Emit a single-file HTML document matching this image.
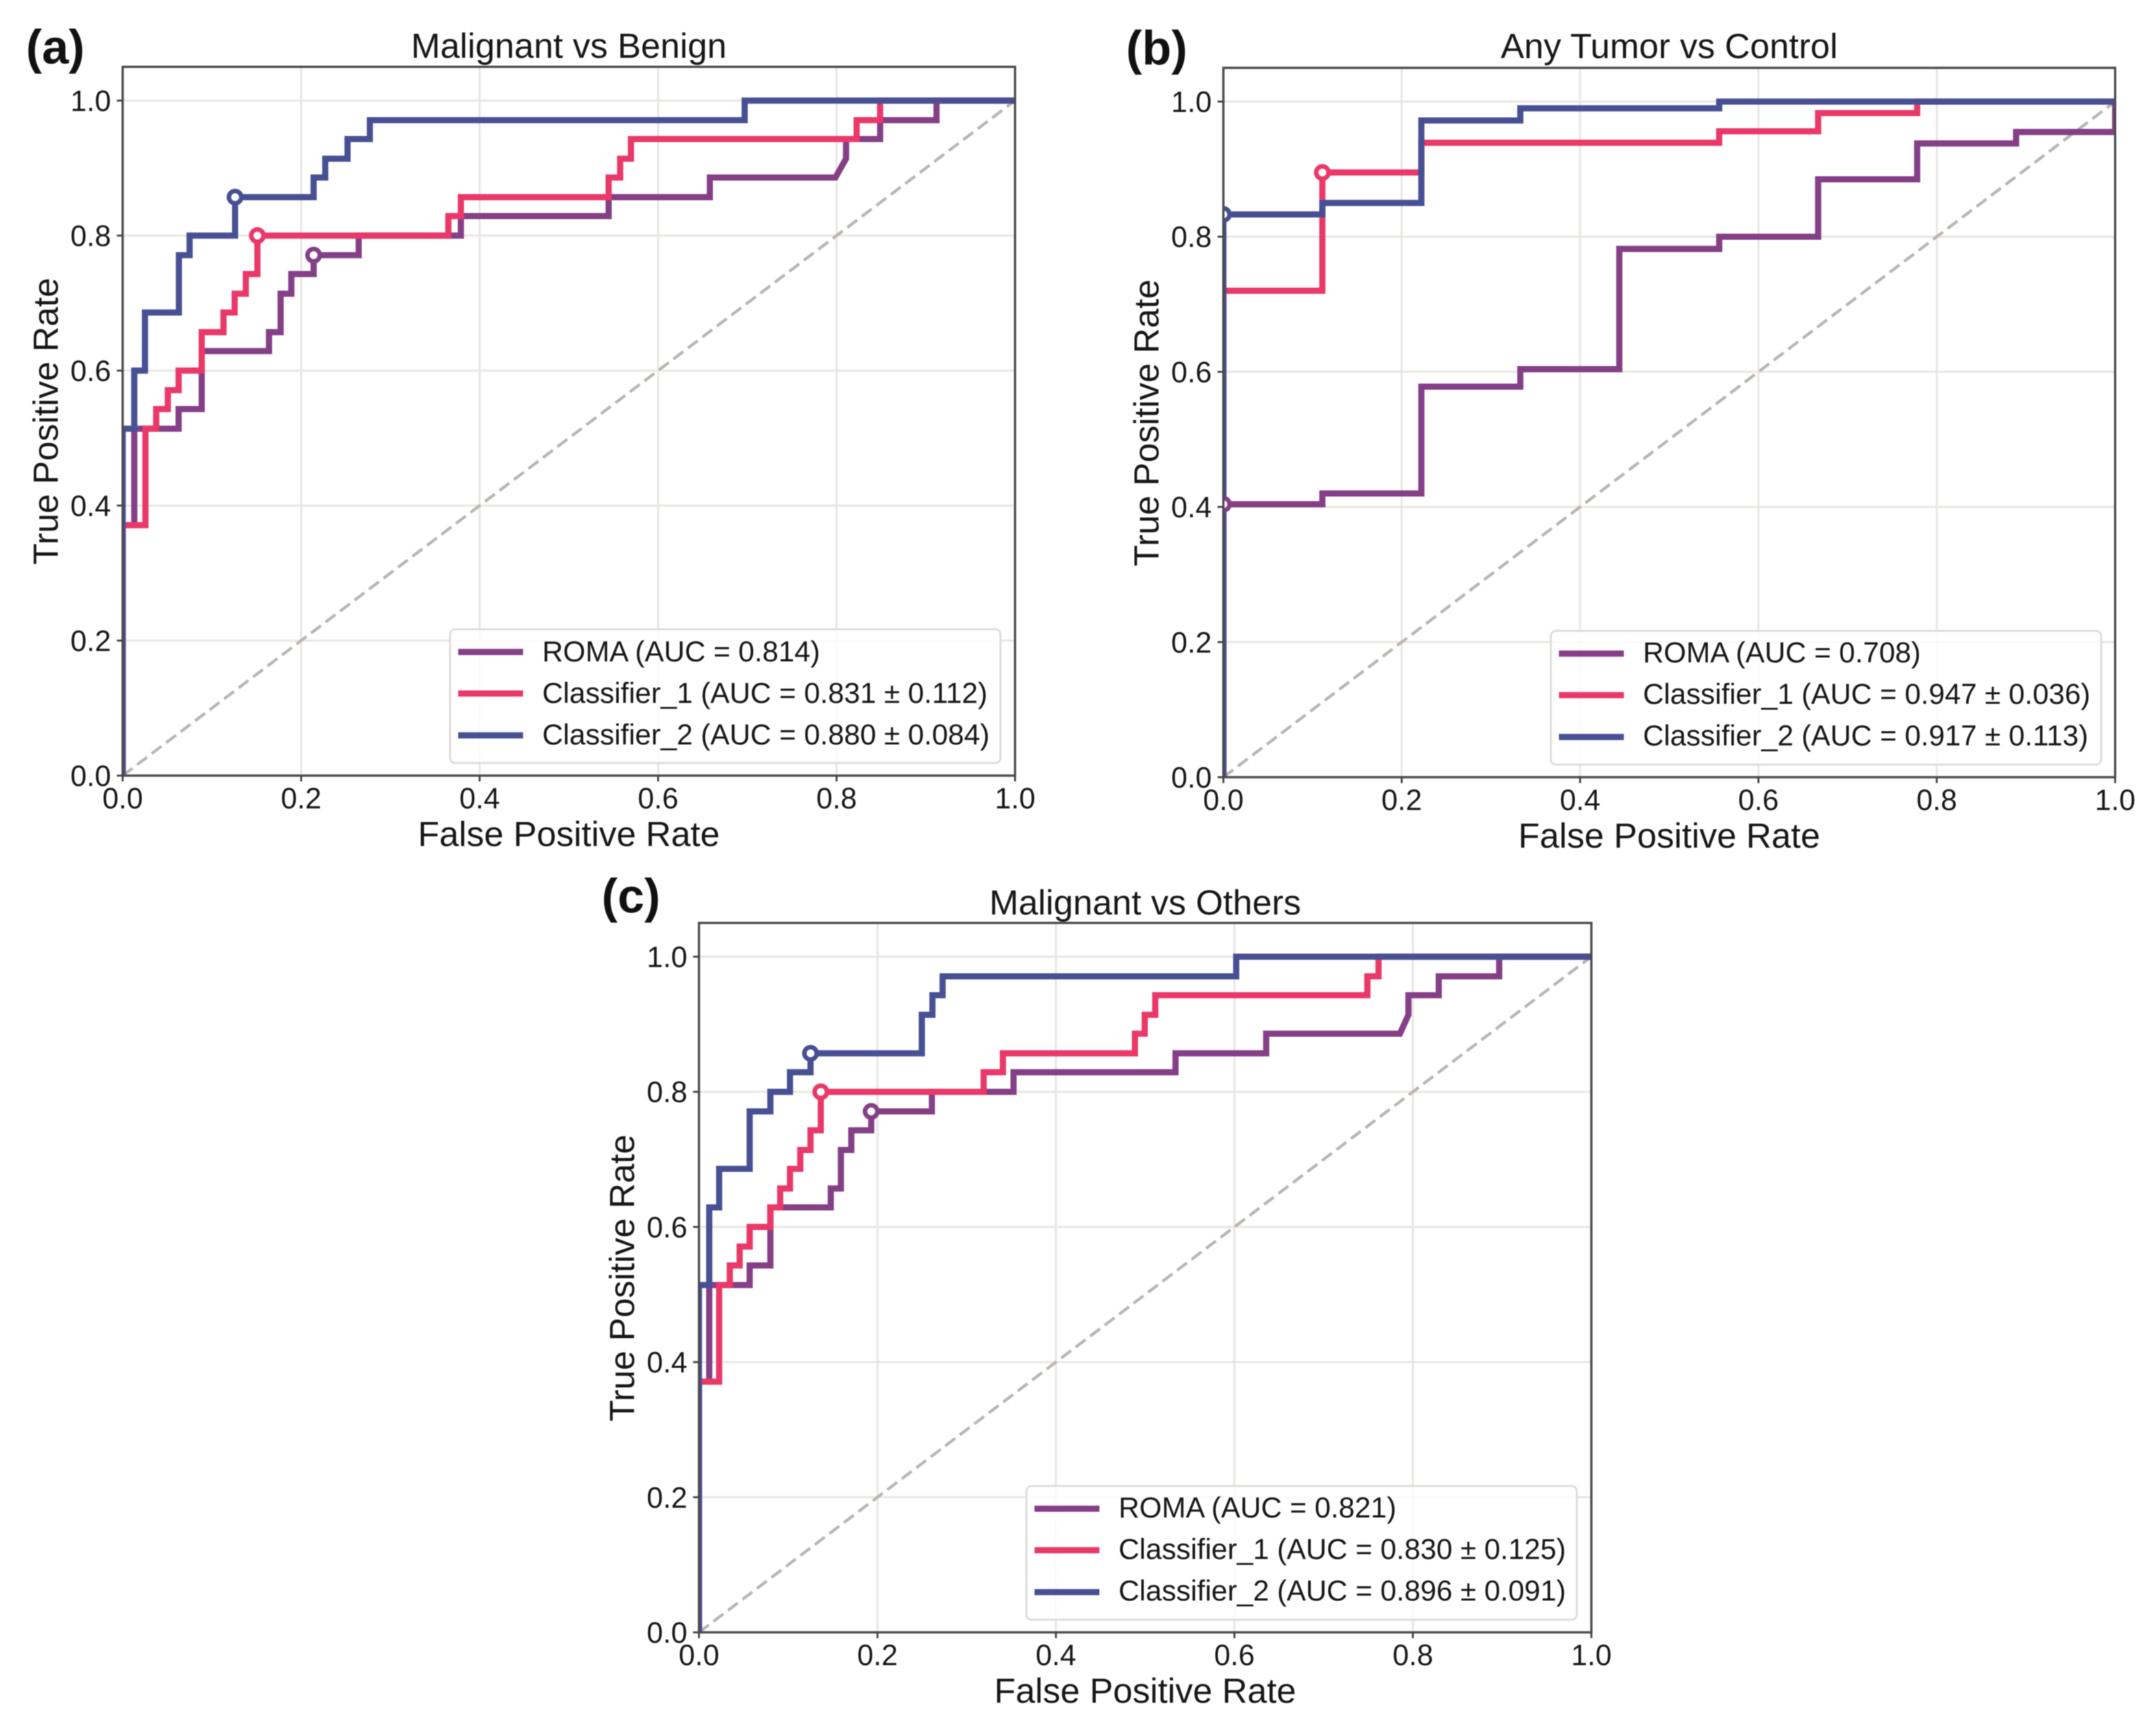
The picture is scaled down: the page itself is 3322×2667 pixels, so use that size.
<!DOCTYPE html>
<html lang="en">
<head>
<meta charset="utf-8">
<title>ROC curves</title>
<style>
html,body{margin:0;padding:0;background:#fff;}
svg{display:block;filter:blur(0.9px);}
text{font-family:"Liberation Sans",Arial,sans-serif;fill:#161616;}
.title,.axis-label{font-size:54px;text-anchor:middle;}
.tick-label{font-size:45px;}
.legend-text{font-size:44.4px;}
.letter{font-size:74px;font-weight:bold;fill:#111;}
.frame{fill:none;stroke:#4a4a4a;stroke-width:3.5;}
.legend-box{fill:#fff;fill-opacity:.8;stroke:#dfdbd7;stroke-width:3;}
</style>
</head>
<body>
<svg xmlns="http://www.w3.org/2000/svg" width="3322" height="2667" viewBox="0 0 3322 2667">
<defs>
<clipPath id="plot-clip-a"><rect x="0" y="-1092" width="1375" height="1092"/></clipPath>
<clipPath id="plot-clip-b"><rect x="0" y="-1093" width="1374" height="1093"/></clipPath>
<clipPath id="plot-clip-c"><rect x="0" y="-1093" width="1375" height="1093"/></clipPath>
</defs>
<rect width="3322" height="2667" fill="#fff"/>

<g transform="translate(189,1195)">
  <text class="letter" x="-149" y="-1097">(a)</text>
  <text class="title" x="687.5" y="-1106">Malignant vs Benign</text>
  <g id="a-under"></g>
  <g id="a-series" clip-path="url(#plot-clip-a)"></g>
  <rect class="frame" x="0" y="-1092" width="1375" height="1092"/>
  <g id="a-ticks"></g>
  <text class="axis-label" x="687.5" y="108.5">False Positive Rate</text>
  <text class="axis-label" transform="translate(-100,-546) rotate(-90)">True Positive Rate</text>
  <g>
    <rect class="legend-box" x="504.5" y="-225.5" width="848" height="206" rx="8"/>
    <line x1="517" x2="617" y1="-190.5" y2="-190.5" stroke="#843f87" stroke-width="9.5"/>
    <text class="legend-text" x="646.5" y="-176">ROMA (AUC = 0.814)</text>
    <line x1="517" x2="617" y1="-126.5" y2="-126.5" stroke="#ea3868" stroke-width="9.5"/>
    <text class="legend-text" x="646.5" y="-112">Classifier_1 (AUC = 0.831 ± 0.112)</text>
    <line x1="517" x2="617" y1="-62" y2="-62" stroke="#485094" stroke-width="9.5"/>
    <text class="legend-text" x="646.5" y="-48">Classifier_2 (AUC = 0.880 ± 0.084)</text>
  </g>
</g>

<g transform="translate(1885,1197.5)">
  <text class="letter" x="-150" y="-1098">(b)</text>
  <text class="title" x="687" y="-1108">Any Tumor vs Control</text>
  <g id="b-under"></g>
  <g id="b-series" clip-path="url(#plot-clip-b)"></g>
  <rect class="frame" x="0" y="-1093" width="1374" height="1093"/>
  <g id="b-ticks"></g>
  <text class="axis-label" x="687" y="108.5">False Positive Rate</text>
  <text class="axis-label" transform="translate(-100,-546) rotate(-90)">True Positive Rate</text>
  <g>
    <rect class="legend-box" x="504.5" y="-225.5" width="848" height="206" rx="8"/>
    <line x1="517" x2="617" y1="-190.5" y2="-190.5" stroke="#843f87" stroke-width="9.5"/>
    <text class="legend-text" x="646.5" y="-177">ROMA (AUC = 0.708)</text>
    <line x1="517" x2="617" y1="-126.5" y2="-126.5" stroke="#ea3868" stroke-width="9.5"/>
    <text class="legend-text" x="646.5" y="-113">Classifier_1 (AUC = 0.947 ± 0.036)</text>
    <line x1="517" x2="617" y1="-62" y2="-62" stroke="#485094" stroke-width="9.5"/>
    <text class="legend-text" x="646.5" y="-49">Classifier_2 (AUC = 0.917 ± 0.113)</text>
  </g>
</g>

<g transform="translate(1077,2515)">
  <text class="letter" x="-150" y="-1109">(c)</text>
  <text class="title" x="687.5" y="-1106">Malignant vs Others</text>
  <g id="c-under"></g>
  <g id="c-series" clip-path="url(#plot-clip-c)"></g>
  <rect class="frame" x="0" y="-1093" width="1375" height="1093"/>
  <g id="c-ticks"></g>
  <text class="axis-label" x="687.5" y="108.5">False Positive Rate</text>
  <text class="axis-label" transform="translate(-100,-546) rotate(-90)">True Positive Rate</text>
  <g>
    <rect class="legend-box" x="504.5" y="-225.5" width="848" height="206" rx="8"/>
    <line x1="517" x2="617" y1="-190.5" y2="-190.5" stroke="#843f87" stroke-width="9.5"/>
    <text class="legend-text" x="646.5" y="-177">ROMA (AUC = 0.821)</text>
    <line x1="517" x2="617" y1="-126.5" y2="-126.5" stroke="#ea3868" stroke-width="9.5"/>
    <text class="legend-text" x="646.5" y="-113">Classifier_1 (AUC = 0.830 ± 0.125)</text>
    <line x1="517" x2="617" y1="-62" y2="-62" stroke="#485094" stroke-width="9.5"/>
    <text class="legend-text" x="646.5" y="-49">Classifier_2 (AUC = 0.896 ± 0.091)</text>
  </g>
</g>
</svg>

<script>
const tickValues = [0, 0.2, 0.4, 0.6, 0.8, 1.0];
const tickLabels = ['0.0', '0.2', '0.4', '0.6', '0.8', '1.0'];
const chanceFpr = [0, 1];
const chanceTpr = [0, 1];

/* Panel (a) Malignant vs Benign */
const aRomaFpr = [0, 0, 0.013, 0.013, 0.0627, 0.0627, 0.0886, 0.0886, 0.164, 0.164, 0.177, 0.177, 0.189, 0.189, 0.214, 0.214, 0.2645, 0.2645, 0.379, 0.379, 0.5446, 0.5446, 0.658, 0.658, 0.7987, 0.8106, 0.8106, 0.8488, 0.8488, 0.912, 0.912, 1];
const aRomaTpr = [0, 0.371, 0.371, 0.514, 0.514, 0.543, 0.543, 0.629, 0.629, 0.657, 0.657, 0.714, 0.714, 0.743, 0.743, 0.771, 0.771, 0.8, 0.8, 0.829, 0.829, 0.857, 0.857, 0.886, 0.886, 0.914, 0.943, 0.943, 0.971, 0.971, 1, 1];
const aClass1Fpr = [0, 0, 0.0255, 0.0255, 0.0376, 0.0376, 0.0506, 0.0506, 0.0627, 0.0627, 0.0886, 0.0886, 0.113, 0.113, 0.1255, 0.1255, 0.138, 0.138, 0.151, 0.151, 0.365, 0.365, 0.379, 0.379, 0.5446, 0.5446, 0.5575, 0.5575, 0.5696, 0.5696, 0.8225, 0.8225, 0.8488, 0.8488, 1];
const aClass1Tpr = [0, 0.371, 0.371, 0.514, 0.514, 0.543, 0.543, 0.571, 0.571, 0.6, 0.6, 0.657, 0.657, 0.686, 0.686, 0.714, 0.714, 0.743, 0.743, 0.8, 0.8, 0.829, 0.829, 0.857, 0.857, 0.886, 0.886, 0.914, 0.914, 0.943, 0.943, 0.971, 0.971, 1, 1];
const aClass2Fpr = [0, 0, 0.013, 0.013, 0.025, 0.025, 0.063, 0.063, 0.075, 0.075, 0.126, 0.126, 0.214, 0.214, 0.227, 0.227, 0.252, 0.252, 0.277, 0.277, 0.697, 0.697, 1];
const aClass2Tpr = [0, 0.514, 0.514, 0.6, 0.6, 0.686, 0.686, 0.771, 0.771, 0.8, 0.8, 0.857, 0.857, 0.886, 0.886, 0.914, 0.914, 0.943, 0.943, 0.971, 0.971, 1, 1];
const aCutoffFpr = [0.214, 0.151, 0.126];
const aCutoffTpr = [0.771, 0.8, 0.857];

/* Panel (b) Any Tumor vs Control */
const bRomaFpr = [0, 0, 0.111, 0.111, 0.222, 0.222, 0.333, 0.333, 0.444, 0.444, 0.556, 0.556, 0.667, 0.667, 0.778, 0.778, 0.889, 0.889, 1, 1];
const bRomaTpr = [0, 0.404, 0.404, 0.42, 0.42, 0.578, 0.578, 0.604, 0.604, 0.782, 0.782, 0.8, 0.8, 0.885, 0.885, 0.938, 0.938, 0.955, 0.955, 1];
const bClass1Fpr = [0, 0, 0.111, 0.111, 0.222, 0.222, 0.556, 0.556, 0.667, 0.667, 0.778, 0.778, 1];
const bClass1Tpr = [0, 0.72, 0.72, 0.895, 0.895, 0.939, 0.939, 0.956, 0.956, 0.983, 0.983, 1, 1];
const bClass2Fpr = [0, 0, 0.111, 0.111, 0.222, 0.222, 0.333, 0.333, 0.556, 0.556, 1];
const bClass2Tpr = [0, 0.833, 0.833, 0.85, 0.85, 0.972, 0.972, 0.99, 0.99, 1, 1];
const bCutoffFpr = [0, 0.111, 0];
const bCutoffTpr = [0.404, 0.895, 0.833];

/* Panel (c) Malignant vs Others */
const cRomaFpr = [0, 0, 0.0115, 0.0115, 0.0568, 0.0568, 0.08, 0.08, 0.1477, 0.1477, 0.159, 0.159, 0.1707, 0.1707, 0.193, 0.193, 0.261, 0.261, 0.3525, 0.3525, 0.534, 0.534, 0.6356, 0.6356, 0.7855, 0.795, 0.795, 0.829, 0.829, 0.8967, 0.8967, 1];
const cRomaTpr = [0, 0.371, 0.371, 0.514, 0.514, 0.543, 0.543, 0.629, 0.629, 0.657, 0.657, 0.714, 0.714, 0.743, 0.743, 0.771, 0.771, 0.8, 0.8, 0.829, 0.829, 0.857, 0.857, 0.886, 0.886, 0.914, 0.943, 0.943, 0.971, 0.971, 1, 1];
const cClass1Fpr = [0, 0, 0.0226, 0.0226, 0.0345, 0.0345, 0.0456, 0.0456, 0.0568, 0.0568, 0.08, 0.08, 0.091, 0.091, 0.102, 0.102, 0.1135, 0.1135, 0.125, 0.125, 0.1365, 0.1365, 0.319, 0.319, 0.3406, 0.3406, 0.4885, 0.4885, 0.4995, 0.4995, 0.5113, 0.5113, 0.749, 0.749, 0.7615, 0.7615, 1];
const cClass1Tpr = [0, 0.371, 0.371, 0.514, 0.514, 0.543, 0.543, 0.571, 0.571, 0.6, 0.6, 0.629, 0.629, 0.657, 0.657, 0.686, 0.686, 0.714, 0.714, 0.743, 0.743, 0.8, 0.8, 0.829, 0.829, 0.857, 0.857, 0.886, 0.886, 0.914, 0.914, 0.943, 0.943, 0.971, 0.971, 1, 1];
const cClass2Fpr = [0, 0, 0.0115, 0.0115, 0.0226, 0.0226, 0.0568, 0.0568, 0.08, 0.08, 0.102, 0.102, 0.125, 0.125, 0.2497, 0.2497, 0.2616, 0.2616, 0.273, 0.273, 0.602, 0.602, 1];
const cClass2Tpr = [0, 0.514, 0.514, 0.629, 0.629, 0.686, 0.686, 0.771, 0.771, 0.8, 0.8, 0.829, 0.829, 0.857, 0.857, 0.914, 0.914, 0.943, 0.943, 0.971, 0.971, 1, 1];
const cCutoffFpr = [0.193, 0.1365, 0.125];
const cCutoffTpr = [0.771, 0.8, 0.857];

const curveNames = ['roma', 'classifier-1', 'classifier-2'];
const curveColors = ['#843f87', '#ea3868', '#485094'];
const SVG_NS = 'http://www.w3.org/2000/svg';

function drawPanel(key, width, unitHeight, fprSets, tprSets, cutoffFpr, cutoffTpr) {
  const xScale = function (f) { return f * width; };
  const yScale = function (v) { return -v * unitHeight; };
  const under = document.getElementById(key + '-under');
  const series = document.getElementById(key + '-series');
  const ticks = document.getElementById(key + '-ticks');

  tickValues.forEach(function (t, i) {
    const gx = document.createElementNS(SVG_NS, 'line');
    
    
    gx.setAttribute('x1', xScale(t));
    gx.setAttribute('x2', xScale(t));
    gx.setAttribute('y1', 0);
    gx.setAttribute('y2', yScale(1.05));
    gx.setAttribute('stroke', '#e8e5e2');
    gx.setAttribute('stroke-width', 3);
    under.appendChild(gx);

    const gy = document.createElementNS(SVG_NS, 'line');
    
    
    gy.setAttribute('x1', 0);
    gy.setAttribute('x2', width);
    gy.setAttribute('y1', yScale(t));
    gy.setAttribute('y2', yScale(t));
    gy.setAttribute('stroke', '#e8e5e2');
    gy.setAttribute('stroke-width', 3);
    under.appendChild(gy);

    const tx = document.createElementNS(SVG_NS, 'line');
    
    
    tx.setAttribute('x1', xScale(t));
    tx.setAttribute('x2', xScale(t));
    tx.setAttribute('y1', 0);
    tx.setAttribute('y2', 9);
    tx.setAttribute('stroke', '#444');
    tx.setAttribute('stroke-width', 3);
    ticks.appendChild(tx);

    const ty = document.createElementNS(SVG_NS, 'line');
    
    
    ty.setAttribute('x1', -9);
    ty.setAttribute('x2', 0);
    ty.setAttribute('y1', yScale(t));
    ty.setAttribute('y2', yScale(t));
    ty.setAttribute('stroke', '#444');
    ty.setAttribute('stroke-width', 3);
    ticks.appendChild(ty);

    const lx = document.createElementNS(SVG_NS, 'text');
    
    
    lx.setAttribute('class', 'tick-label');
    lx.setAttribute('x', xScale(t));
    lx.setAttribute('y', 50.5);
    lx.setAttribute('text-anchor', 'middle');
    lx.textContent = tickLabels[i];
    ticks.appendChild(lx);

    const ly = document.createElementNS(SVG_NS, 'text');
    
    
    ly.setAttribute('class', 'tick-label');
    ly.setAttribute('x', -18);
    ly.setAttribute('y', yScale(t) + 16);
    ly.setAttribute('text-anchor', 'end');
    ly.textContent = tickLabels[i];
    ticks.appendChild(ly);
  });

  const chance = document.createElementNS(SVG_NS, 'line');
  
  
  chance.setAttribute('x1', xScale(chanceFpr[0]));
  chance.setAttribute('y1', yScale(chanceTpr[0]));
  chance.setAttribute('x2', xScale(chanceFpr[1]));
  chance.setAttribute('y2', yScale(chanceTpr[1]));
  chance.setAttribute('stroke', '#b9b5b1');
  chance.setAttribute('stroke-width', 4.5);
  chance.setAttribute('stroke-dasharray', '19 9');
  series.appendChild(chance);

  fprSets.forEach(function (fpr, s) {
    const tpr = tprSets[s];
    const pts = fpr.map(function (f, i) { return xScale(f) + ',' + yScale(tpr[i]); }).join(' ');
    const line = document.createElementNS(SVG_NS, 'polyline');
    
    
    line.setAttribute('points', pts);
    line.setAttribute('fill', 'none');
    line.setAttribute('stroke', curveColors[s]);
    line.setAttribute('stroke-width', 9.5);
    line.setAttribute('stroke-linejoin', 'miter');
    series.appendChild(line);
  });

  cutoffFpr.forEach(function (f, s) {
    const dot = document.createElementNS(SVG_NS, 'circle');
    
    
    dot.setAttribute('cx', xScale(f));
    dot.setAttribute('cy', yScale(cutoffTpr[s]));
    dot.setAttribute('r', 9.5);
    dot.setAttribute('fill', '#fff');
    dot.setAttribute('stroke', curveColors[s]);
    dot.setAttribute('stroke-width', 7);
    series.appendChild(dot);
  });
}

drawPanel('a', 1375, 1040, [aRomaFpr, aClass1Fpr, aClass2Fpr], [aRomaTpr, aClass1Tpr, aClass2Tpr], aCutoffFpr, aCutoffTpr);
drawPanel('b', 1374, 1041, [bRomaFpr, bClass1Fpr, bClass2Fpr], [bRomaTpr, bClass1Tpr, bClass2Tpr], bCutoffFpr, bCutoffTpr);
drawPanel('c', 1375, 1041, [cRomaFpr, cClass1Fpr, cClass2Fpr], [cRomaTpr, cClass1Tpr, cClass2Tpr], cCutoffFpr, cCutoffTpr);
</script>
</body>
</html>
